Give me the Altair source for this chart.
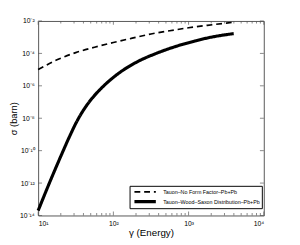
import altair as alt
import pandas as pd

# ---- data ----
series_names = ["Tauon–No Form Factor–Pb+Pb", "Tauon–Wood–Saxon Distribution–Pb+Pb"]

gamma_noff = [10, 17.8, 31.6, 56.2, 100, 178, 316, 562, 1000, 1778, 3162, 3981]
sigma_noff = [1.0e-5, 4.0e-5, 1.12e-4, 2.4e-4, 4.7e-4, 8.7e-4, 1.58e-3, 2.5e-3,
              3.8e-3, 5.4e-3, 7.4e-3, 8.3e-3]

gamma_ws = [10, 14.1, 20.0, 26.3, 33.1, 41.7, 53.7, 70.8, 112, 204, 372, 661,
            1202, 1995, 3981]
sigma_ws = [2.0e-14, 1.0e-12, 4.5e-11, 7.9e-10, 7.1e-9, 4.2e-8, 2.0e-7, 7.9e-7,
            5.0e-6, 2.9e-5, 1.0e-4, 2.6e-4, 5.75e-4, 1.0e-3, 1.66e-3]

x_major = [10, 100, 1000, 10000]
x_labels = ["10¹", "10²", "10³", "10⁴"]
x_minor = [20, 30, 40, 50, 60, 70, 80, 90,
           200, 300, 400, 500, 600, 700, 800, 900,
           2000, 3000, 4000, 5000, 6000, 7000, 8000, 9000]
y_major = [1e-14, 1e-12, 1e-10, 1e-8, 1e-6, 1e-4, 1e-2]
y_labels = ["10⁻¹⁴", "10⁻¹²", "10⁻¹⁰", "10⁻⁸", "10⁻⁶", "10⁻⁴", "10⁻²"]

W, H = 232, 200
AX = "#555555"
FONT = "Liberation Sans"

df = pd.concat([
    pd.DataFrame({"gamma": gamma_noff, "sigma": sigma_noff, "series": series_names[0]}),
    pd.DataFrame({"gamma": gamma_ws, "sigma": sigma_ws, "series": series_names[1]}),
])
df_xmaj = pd.DataFrame({"gamma": x_major})
df_xmin = pd.DataFrame({"gamma": x_minor})
df_ymaj = pd.DataFrame({"sigma": y_major})


def label_expr(values, labels):
    expr = "''"
    for v, l in reversed(list(zip(values, labels))):
        expr = f"abs(datum.value / {v!r} - 1) < 1e-6 ? '{l}' : {expr}"
    return expr


xscale = alt.Scale(type="log", domain=[10, 10000], nice=False)
yscale = alt.Scale(type="log", domain=[1e-14, 1e-2], nice=False)

leg = alt.Legend(title=None, orient="none", legendX=94, legendY=169.5)

lines = alt.Chart(df).mark_line(interpolate="monotone", color="black").encode(
    x=alt.X("gamma:Q", scale=xscale,
            axis=alt.Axis(values=x_major, labelExpr=label_expr(x_major, x_labels),
                          title="γ (Energy)", ticks=False, domain=False,
                          grid=False, labelPadding=4, titlePadding=2,
                          labelFontSize=7, titleFontSize=10, labelFont=FONT,
                          titleFont=FONT, titleFontWeight="normal",
                          labelColor="black", titleColor="black")),
    y=alt.Y("sigma:Q", scale=yscale,
            axis=alt.Axis(values=y_major, labelExpr=label_expr(y_major, y_labels),
                          title="σ (barn)", ticks=False, domain=False,
                          grid=False, labelPadding=4, titlePadding=1,
                          labelFontSize=7, titleFontSize=9.5, labelFont=FONT,
                          titleFont=FONT, titleFontWeight="normal",
                          labelColor="black", titleColor="black")),
    strokeDash=alt.StrokeDash("series:N",
                              scale=alt.Scale(domain=series_names, range=[[6, 4], [1, 0]]),
                              legend=leg),
    strokeWidth=alt.StrokeWidth("series:N",
                                scale=alt.Scale(domain=series_names, range=[1.7, 3.2]),
                                legend=leg),
)

tick_style = dict(color=AX, thickness=1)
xt_bot_major = alt.Chart(df_xmaj).mark_tick(orient="vertical", size=4, **tick_style).encode(
    x=alt.X("gamma:Q", scale=xscale, axis=None), y=alt.value(H - 2))
xt_top_major = alt.Chart(df_xmaj).mark_tick(orient="vertical", size=4, **tick_style).encode(
    x=alt.X("gamma:Q", scale=xscale, axis=None), y=alt.value(2))
xt_bot_minor = alt.Chart(df_xmin).mark_tick(orient="vertical", size=2.5, **tick_style).encode(
    x=alt.X("gamma:Q", scale=xscale, axis=None), y=alt.value(H - 1.25))
xt_top_minor = alt.Chart(df_xmin).mark_tick(orient="vertical", size=2.5, **tick_style).encode(
    x=alt.X("gamma:Q", scale=xscale, axis=None), y=alt.value(1.25))
yt_left = alt.Chart(df_ymaj).mark_tick(orient="horizontal", size=4, **tick_style).encode(
    y=alt.Y("sigma:Q", scale=yscale, axis=None), x=alt.value(2))
yt_right = alt.Chart(df_ymaj).mark_tick(orient="horizontal", size=4, **tick_style).encode(
    y=alt.Y("sigma:Q", scale=yscale, axis=None), x=alt.value(W - 2))

chart = alt.layer(
    lines, xt_bot_major, xt_top_major, xt_bot_minor, xt_top_minor, yt_left, yt_right
).resolve_axis(
    x="independent", y="independent"
).properties(
    width=W, height=H,
    padding={"left": 31, "top": 10, "right": 29, "bottom": 27},
    autosize=alt.AutoSizeParams(type="none"),
).configure_view(
    stroke=AX, strokeWidth=1
).configure_legend(
    strokeColor="black", fillColor="white", padding=1.5, cornerRadius=0,
    labelFontSize=5.5, labelFont=FONT, labelColor="black",
    symbolType="stroke", symbolSize=484, symbolStrokeColor="black",
    rowPadding=0, labelOffset=5.5, clipHeight=9.4, symbolOffset=1.5,
)

chart.save("out.html", embed_options={"renderer": "svg", "actions": False})
